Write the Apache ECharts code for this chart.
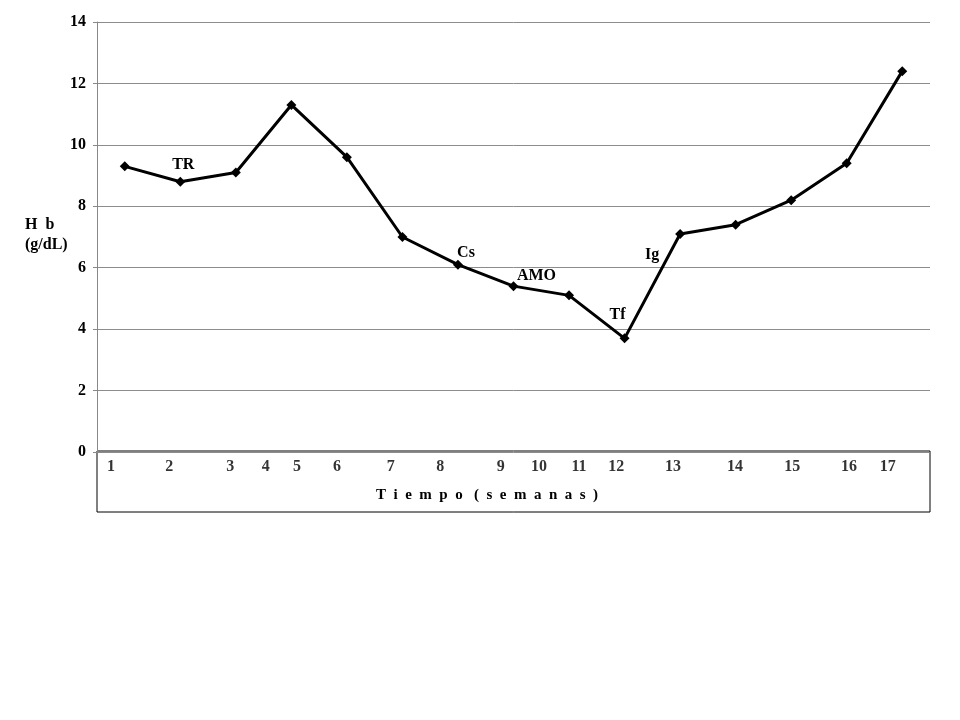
<!DOCTYPE html>
<html>
<head>
<meta charset="utf-8">
<script src="https://cdn.jsdelivr.net/npm/echarts@6/dist/echarts.min.js"></script>
<style>
  html, body { margin: 0; padding: 0; background: #fff; }
  #main { width: 960px; height: 720px; }
</style>
</head>
<body>
<div id="main"></div>
<script>
// Hb por punto de medida
var hbValues = [9.3, 8.8, 9.1, 11.3, 9.6, 7.0, 6.1, 5.4, 5.1, 3.7, 7.1, 7.4, 8.2, 9.4, 12.4];
// anotaciones de tratamiento sobre los puntos
var notes = ['', 'TR', '', '', '', '', 'Cs', 'AMO', '', 'Tf', 'Ig', '', '', '', ''];
// etiquetas de semana (texto y posicion en el eje de puntos)
var weekLabels = ['1', '2', '3', '4', '5', '6', '7', '8', '9', '10', '11', '12', '13', '14', '15', '16', '17'];
var weekPos = [0.25, 1.3, 2.4, 3.04, 3.6, 4.32, 5.29, 6.18, 7.27, 7.96, 8.68, 9.35, 10.37, 11.49, 12.52, 13.54, 14.24];
var yTicks = [0, 2, 4, 6, 8, 10, 12, 14];

var serif = '"Liberation Serif", "Times New Roman", serif';
var noteOffset = {
  TR: [3, -17],
  Cs: [8, -12],
  AMO: [23, -10],
  Tf: [-7, -23],
  Ig: [-28, 21]
};

var chart = echarts.init(document.getElementById('main'));

var lineData = hbValues.map(function (v, i) {
  var item = { value: v };
  if (notes[i]) {
    item.label = {
      show: true,
      formatter: notes[i],
      position: 'inside',
      offset: noteOffset[notes[i]],
      fontFamily: serif,
      fontWeight: 'bold',
      fontSize: 16,
      color: '#000'
    };
  }
  return item;
});

var weekData = weekPos.map(function (p, i) {
  return { value: [p, 0.5], name: weekLabels[i] };
});

var option = {
  backgroundColor: '#fff',
  animation: false,
  grid: [
    { left: 97, right: 30, top: 22, bottom: 268 },
    { left: 97, right: 30, top: 451, height: 61, show: true, borderColor: '#000', borderWidth: 1, backgroundColor: 'transparent' }
  ],
  xAxis: [
    {
      gridIndex: 0,
      type: 'category',
      data: hbValues.map(function (v, i) { return String(i + 1); }),
      boundaryGap: true,
      axisLine: { show: false },
      axisTick: { show: false },
      axisLabel: { show: false },
      splitLine: { show: false }
    },
    {
      gridIndex: 1,
      type: 'value',
      min: 0,
      max: hbValues.length,
      show: false
    }
  ],
  yAxis: [
    {
      gridIndex: 0,
      type: 'value',
      min: 0,
      max: 14,
      interval: 2,
      axisLine: { show: true, lineStyle: { color: '#888', width: 1 } },
      axisTick: { show: true, length: 4, lineStyle: { color: '#888' } },
      axisLabel: {
        margin: 11,
        fontFamily: serif,
        fontWeight: 'bold',
        fontSize: 16,
        color: '#000',
        formatter: function (v) { return yTicks.indexOf(v) >= 0 ? String(v) : ''; }
      },
      splitLine: { show: true, lineStyle: { color: '#8c8c8c', width: 1 } }
    },
    {
      gridIndex: 1,
      type: 'value',
      min: 0,
      max: 1,
      show: false
    }
  ],
  graphic: [
    {
      type: 'text',
      left: 25,
      top: 215,
      style: {
        text: 'H  b\n(g/dL)',
        font: 'bold 16px ' + serif,
        fill: '#000',
        lineHeight: 20
      }
    },
    {
      type: 'text',
      left: 376,
      top: 488,
      style: {
        text: 'T  i  e  m  p  o   (  s  e  m  a  n  a  s  )',
        font: 'bold 15px ' + serif,
        fill: '#000'
      }
    }
  ],
  series: [
    {
      type: 'line',
      xAxisIndex: 0,
      yAxisIndex: 0,
      data: lineData,
      symbol: 'diamond',
      symbolSize: 10,
      showAllSymbol: true,
      lineStyle: { color: '#000', width: 3 },
      itemStyle: { color: '#000' },
      label: { show: false }
    },
    {
      type: 'scatter',
      xAxisIndex: 1,
      yAxisIndex: 1,
      data: weekData,
      symbolSize: 0,
      silent: true,
      label: {
        show: true,
        position: 'inside',
        formatter: '{b}',
        offset: [0, -15],
        fontFamily: serif,
        fontWeight: 'bold',
        fontSize: 16,
        color: '#000'
      }
    }
  ]
};

chart.setOption(option);
</script>
</body>
</html>
